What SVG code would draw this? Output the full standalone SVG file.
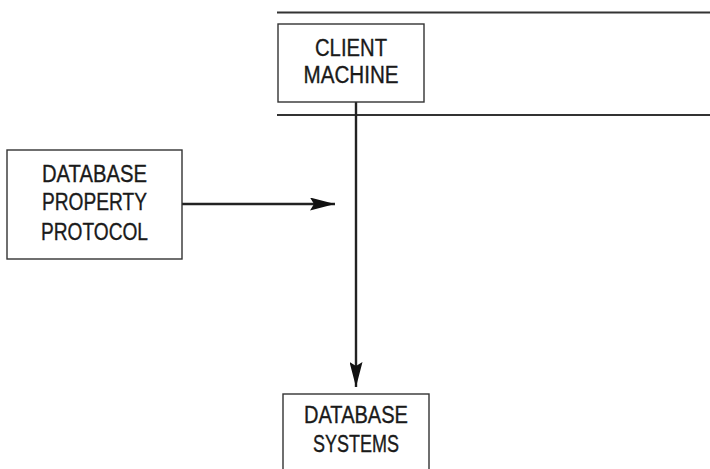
<svg xmlns="http://www.w3.org/2000/svg" width="710" height="469" viewBox="0 0 710 469">
<style>
.box{fill:#fff;stroke:#333;stroke-width:1.4}
.t{font-family:"Liberation Sans",Arial,sans-serif;font-size:23px;fill:#1a1a1a;stroke:#1a1a1a;stroke-width:0.35;text-anchor:middle}
.ln{stroke:#222;stroke-width:2.4;fill:none}
.lane{stroke:#333;stroke-width:2;fill:none}
</style>
<defs>
<marker id="ah" markerWidth="25" markerHeight="13" refX="25" refY="6.5" orient="auto" markerUnits="userSpaceOnUse">
<path d="M0,0 L25,6.5 L0,13 L4,6.5 Z" fill="#111"/>
</marker>
</defs>
<rect width="710" height="469" fill="#fff"/>
<g id="lanes">
<line class="lane" x1="277" y1="12.5" x2="710" y2="12.5"/>
<line class="lane" x1="277" y1="115" x2="710" y2="115"/>
</g>
<g id="connectors">
<line class="ln" x1="356" y1="102" x2="356" y2="387" marker-end="url(#ah)"/>
<line class="ln" x1="182" y1="204" x2="335" y2="204" marker-end="url(#ah)"/>
</g>
<g id="client-machine">
<rect class="box" x="278" y="24" width="146" height="78"/>
<text class="t" x="351" y="56" textLength="72" lengthAdjust="spacingAndGlyphs">CLIENT</text>
<text class="t" x="351" y="83" textLength="95" lengthAdjust="spacingAndGlyphs">MACHINE</text>
</g>
<g id="database-property-protocol">
<rect class="box" x="7" y="150" width="175" height="109"/>
<text class="t" x="94.5" y="182" textLength="105" lengthAdjust="spacingAndGlyphs">DATABASE</text>
<text class="t" x="94.5" y="210" textLength="105" lengthAdjust="spacingAndGlyphs">PROPERTY</text>
<text class="t" x="94.5" y="240" textLength="107" lengthAdjust="spacingAndGlyphs">PROTOCOL</text>
</g>
<g id="database-systems">
<rect class="box" x="283" y="394" width="146" height="90"/>
<text class="t" x="356" y="423" textLength="104" lengthAdjust="spacingAndGlyphs">DATABASE</text>
<text class="t" x="356" y="452" textLength="86" lengthAdjust="spacingAndGlyphs">SYSTEMS</text>
</g>
</svg>
